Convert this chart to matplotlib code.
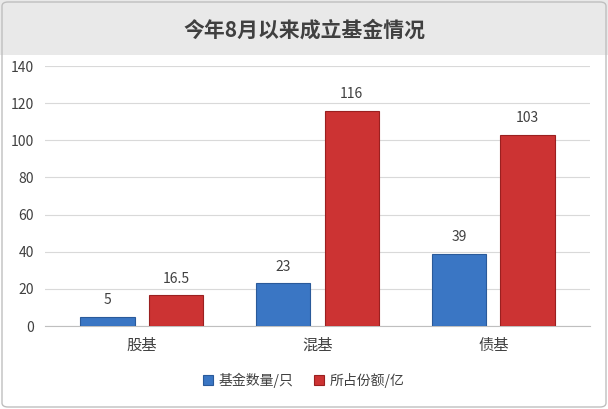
import matplotlib
matplotlib.use("Agg")
import matplotlib.pyplot as plt
from matplotlib.patches import Rectangle, FancyBboxPatch
import numpy as np

plt.rcParams['font.family'] = ['Noto Sans CJK SC', 'DejaVu Sans']

categories = ['股基', '混基', '债基']
count_vals = [5, 23, 39]
share_vals = [16.5, 116, 103]
count_labels = ['5', '23', '39']
share_labels = ['16.5', '116', '103']
series_names = ['基金数量/只', '所占份额/亿']
title = '今年8月以来成立基金情况'

fig = plt.figure(figsize=(6.08, 4.09), dpi=100)
W, H = 608, 409
# title background
fig.patches.append(Rectangle((0, 1 - 55 / H), 1, 55 / H, transform=fig.transFigure,
                             facecolor='#e9e9e9', edgecolor='none', zorder=0))
fig.patches.append(FancyBboxPatch((2 / W, 2 / H), 1 - 4 / W, 1 - 4 / H,
                                  boxstyle='round,pad=0,rounding_size=0.01',
                                  transform=fig.transFigure, facecolor='none',
                                  edgecolor='#bfbfbf', lw=1))
fig.text(0.5, 1 - 30 / H, title, ha='center', va='center', fontsize=15,
         fontweight='bold', color='#404040')

ax = fig.add_axes([45 / W, 1 - 326 / H, 545 / W, 260 / H])
x = np.arange(len(categories))
w = 0.31
b1 = ax.bar(x - 0.195, count_vals, w, color='#3a76c4', edgecolor='#2a5a9a', lw=0.8, zorder=3)
b2 = ax.bar(x + 0.195, share_vals, w, color='#cc3333', edgecolor='#9a2020', lw=0.8, zorder=3)
for rect, lab in zip(b1, count_labels):
    ax.text(rect.get_x() + rect.get_width() / 2, rect.get_height() + 5, lab,
            ha='center', va='bottom', fontsize=10, color='#404040')
for rect, lab in zip(b2, share_labels):
    ax.text(rect.get_x() + rect.get_width() / 2, rect.get_height() + 5, lab,
            ha='center', va='bottom', fontsize=10, color='#404040')

ax.set_ylim(0, 140)
ax.set_yticks(range(0, 141, 20))
ax.set_xlim(-0.55, 2.55)
ax.set_xticks(x)
ax.set_xticklabels(categories, fontsize=11, color='#404040')
ax.tick_params(axis='y', length=0, labelsize=10, colors='#404040', pad=8)
ax.tick_params(axis='x', length=0, pad=8)
ax.grid(axis='y', color='#d9d9d9', lw=0.8, zorder=0)
for s in ['top', 'right', 'left']:
    ax.spines[s].set_visible(False)
ax.spines['bottom'].set_color('#bfbfbf')

fig.legend([b1, b2], series_names, loc='center', bbox_to_anchor=(0.5, 1 - 380 / H),
           ncol=2, frameon=False, fontsize=10, handlelength=0.7, handleheight=0.7,
           columnspacing=1.5, handletextpad=0.4, labelcolor='#404040')

fig.savefig('out.png', dpi=100)
